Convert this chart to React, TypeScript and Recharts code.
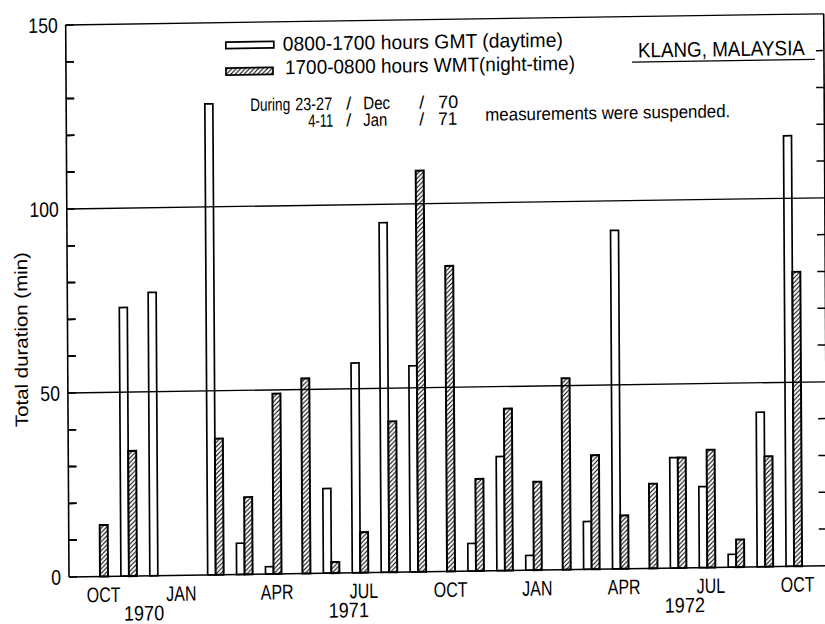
import React from 'react';
import { BarChart, Bar, XAxis, YAxis, ReferenceLine } from 'recharts';

// ---------- data ----------
const months = [
  'Oct 1970', 'Nov 1970', 'Dec 1970', 'Jan 1971', 'Feb 1971', 'Mar 1971', 'Apr 1971',
  'May 1971', 'Jun 1971', 'Jul 1971', 'Aug 1971', 'Sep 1971', 'Oct 1971', 'Nov 1971',
  'Dec 1971', 'Jan 1972', 'Feb 1972', 'Mar 1972', 'Apr 1972', 'May 1972', 'Jun 1972',
  'Jul 1972', 'Aug 1972', 'Sep 1972', 'Oct 1972',
];
const monthTickLabels = [
  'OCT', '', '', 'JAN', '', '', 'APR', '', '', 'JUL', '', '', 'OCT', '', '', 'JAN', '', '',
  'APR', '', '', 'JUL', '', '', 'OCT',
];
// 0800-1700 hours GMT (daytime)
const daytime = [null, 73, 77, null, 128, 8.5, 2, null, 23, 57, 95, 56, null, 7.5, 31, 4, null, 13, 92, null, 30, 22, 3.5, 42, 117];
// 1700-0800 hours WMT (night-time)
const nighttime = [14, 34, null, null, 37, 21, 49, 53, 3, 11, 41, 109, 83, 25, 44, 24, 52, 31, 14.5, 23, 30, 32, 7.5, 30, 80];

const yearLabels = [
  { index: 1, label: '1970', shift: 0.5 },
  { index: 8, label: '1971', shift: 0.58 },
  { index: 20, label: '1972', shift: 0.2 },
];
const yTicks = [0, 10, 20, 30, 40, 50, 60, 70, 80, 90, 100, 110, 120, 130, 140, 150];
const yLabelled = [0, 50, 100, 150];
const minorTicks = [10, 20, 30, 40, 60, 70, 80, 90, 110, 120, 130, 140];
const gridValues = [50, 100, 150];
const legendDay = '0800-1700 hours GMT  (daytime)';
const legendNight = '1700-0800 hours WMT(night-time)';
const stationTitle = 'KLANG, MALAYSIA';
const yTitle = 'Total duration (min)';
const noteLine1 = ['During', '23-27', '/', 'Dec', '/', '70'];
const noteLine2 = ['4-11', '/', 'Jan', '/', '71'];
const noteTail = 'measurements were suspended.';

const data = months.map((m, i) => ({ m, day: daytime[i], night: nighttime[i] }));

// ---------- layout / styling ----------
const FONT = "'Liberation Sans', Arial, Helvetica, sans-serif";
const BAND = 28.92;
const TICK_LEN = 8;
const AXIS_X = 69;
const PLOT_TOP = 25;
const PLOT_BOTTOM = 577;
const Y_MAX = 150;
const monthNudge: Record<number, number> = { 3: -6 };
const axisY = (v: number) => PLOT_BOTTOM - (v / Y_MAX) * (PLOT_BOTTOM - PLOT_TOP);

function CText({ x, y, size, anchor = 'start', sx = 0.8, children }: any) {
  return (
    <text
      transform={`translate(${x},${y}) scale(${sx},1)`}
      x={0}
      y={0}
      textAnchor={anchor}
      fontSize={size}
      fontFamily={FONT}
      fill="#000"
    >
      {children}
    </text>
  );
}

function LText({ x, y, size, len, anchor = 'start', children }: any) {
  return (
    <text
      x={x}
      y={y}
      textAnchor={anchor}
      fontSize={size}
      fontFamily={FONT}
      fill="#000"
      textLength={len}
      lengthAdjust={len ? 'spacingAndGlyphs' : undefined}
    >
      {children}
    </text>
  );
}

function XTick(props: any) {
  const { x, y, index } = props;
  const label = monthTickLabels[index];
  const yr = yearLabels.find((d) => d.index === index);
  const nudge = monthNudge[index] ?? 3;
  return (
    <g>
      {label ? (
        <CText x={x + nudge} y={y + 25.5} size={21} anchor="middle" sx={0.76}>
          {label}
        </CText>
      ) : null}
      {yr ? (
        <CText x={x + yr.shift * BAND} y={y + 44.5} size={21} anchor="middle" sx={0.86}>
          {yr.label}
        </CText>
      ) : null}
    </g>
  );
}

// with tickSize = -TICK_LEN the tick anchor sits TICK_LEN px inside the axis
function LeftTick(props: any) {
  const { x, y, payload } = props;
  const v = payload.value;
  return yLabelled.includes(v) ? (
    <CText x={x - TICK_LEN - 8} y={y + 7.5} size={21} anchor="end" sx={0.84}>
      {String(v)}
    </CText>
  ) : (
    <g />
  );
}

// short inward tick marks at both ends of a horizontal reference line
function MinorTickShape(props: any) {
  const { x1, x2, y1 } = props;
  const left = Math.min(x1, x2);
  const right = Math.max(x1, x2);
  return (
    <g>
      <line x1={left} x2={left + TICK_LEN} y1={y1} y2={y1} stroke="#000" strokeWidth={1.5} />
      <line x1={right - TICK_LEN} x2={right} y1={y1} y2={y1} stroke="#000" strokeWidth={1.5} />
    </g>
  );
}

export default function App() {
  return (
    <div
      style={{
        position: 'absolute',
        left: 0,
        top: 0,
        width: 825,
        height: 624,
        overflow: 'hidden',
        background: '#fff',
      }}
    >
      <div
        style={{
          position: 'relative',
          width: 860,
          height: 624,
          transformOrigin: `${AXIS_X}px ${PLOT_BOTTOM}px`,
          transform: 'matrix(1, -0.0148, 0.006, 1, 0, 0)',
        }}
      >
        <BarChart
          width={860}
          height={624}
          data={data}
          margin={{ top: PLOT_TOP, right: 0, bottom: 0, left: 0 }}
          barGap={0}
        >
          <XAxis
            dataKey="m"
            interval={0}
            tickLine={false}
            tickSize={0}
            tickMargin={0}
            height={624 - PLOT_BOTTOM}
            padding={{ left: 17, right: 18 }}
            axisLine={{ stroke: '#000', strokeWidth: 1.6 }}
            tick={<XTick />}
          />
          <YAxis
            yAxisId="left"
            orientation="left"
            width={AXIS_X}
            domain={[0, Y_MAX]}
            ticks={yTicks}
            interval={0}
            tickLine={{ stroke: '#000', strokeWidth: 1.5 }}
            tickSize={-TICK_LEN}
            tickMargin={0}
            axisLine={{ stroke: '#000', strokeWidth: 1.6 }}
            tick={<LeftTick />}
          />
          <YAxis
            yAxisId="right"
            orientation="right"
            width={33}
            domain={[0, Y_MAX]}
            ticks={yLabelled}
            tickLine={false}
            tick={false}
            axisLine={{ stroke: '#000', strokeWidth: 1.6 }}
          />
          {minorTicks.map((v) => (
            <ReferenceLine
              key={`m${v}`}
              yAxisId="left"
              y={v}
              stroke="#000"
              shape={<MinorTickShape />}
            />
          ))}
          {gridValues.map((v) => (
            <ReferenceLine key={v} yAxisId="left" y={v} stroke="#000" strokeWidth={1.3} />
          ))}
          <Bar
            yAxisId="left"
            dataKey="day"
            fill="#fff"
            stroke="#000"
            strokeWidth={1.7}
            barSize={8}
            isAnimationActive={false}
          />
          <Bar
            yAxisId="left"
            dataKey="night"
            fill="url(#hatch)"
            stroke="#000"
            strokeWidth={2}
            barSize={8}
            isAnimationActive={false}
          />
        </BarChart>
        <svg
          width={860}
          height={624}
          style={{ position: 'absolute', left: 0, top: 0, pointerEvents: 'none' }}
        >
          <defs>
            <pattern id="hatch" patternUnits="userSpaceOnUse" width="4.5" height="4.5">
              <rect width="4.5" height="4.5" fill="#fff" />
              <path
                d="M-1.125,1.125 L1.125,-1.125 M0,4.5 L4.5,0 M3.375,5.625 L5.625,3.375"
                stroke="#000"
                strokeWidth="1.1"
              />
            </pattern>
          </defs>
          {/* left-axis minor ticks (axis decoration on top layer) */}
          {minorTicks.map((v) => (
            <line
              key={`lt${v}`}
              x1={AXIS_X}
              x2={AXIS_X + TICK_LEN}
              y1={axisY(v)}
              y2={axisY(v)}
              stroke="#000"
              strokeWidth={1.5}
            />
          ))}
          {/* legend */}
          <rect x={229} y={44.5} width={48} height={6.5} fill="#fff" stroke="#000" strokeWidth={1.7} />
          <rect x={229} y={70.5} width={47} height={7} fill="url(#hatch)" stroke="#000" strokeWidth={1.7} />
          <LText x={286} y={54} size={20} len={280}>{legendDay}</LText>
          <LText x={288} y={77.5} size={20} len={290}>{legendNight}</LText>
          {/* station */}
          <LText x={641} y={66} size={21} len={167}>{stationTitle}</LText>
          <line x1={635} x2={818} y1={70.5} y2={70.5} stroke="#000" strokeWidth={1.3} />
          {/* note */}
          <LText x={253} y={113.7} size={18} len={40}>{noteLine1[0]}</LText>
          <LText x={298} y={113.7} size={18} len={37}>{noteLine1[1]}</LText>
          <LText x={349} y={113.7} size={18}>{noteLine1[2]}</LText>
          <LText x={366} y={113.7} size={18} len={27}>{noteLine1[3]}</LText>
          <LText x={422} y={113.7} size={18}>{noteLine1[4]}</LText>
          <LText x={441} y={113.7} size={18} len={20}>{noteLine1[5]}</LText>
          <LText x={311} y={130.5} size={18} len={25}>{noteLine2[0]}</LText>
          <LText x={349} y={130.5} size={18}>{noteLine2[1]}</LText>
          <LText x={366} y={130.5} size={18} len={24}>{noteLine2[2]}</LText>
          <LText x={422} y={130.5} size={18}>{noteLine2[3]}</LText>
          <LText x={441} y={130.5} size={18} len={19}>{noteLine2[4]}</LText>
          <LText x={488} y={127} size={18} len={245}>{noteTail}</LText>
          {/* y axis title */}
          <g transform="translate(29,339) rotate(-90)">
            <LText x={0} y={0} size={18} len={175} anchor="middle">{yTitle}</LText>
          </g>
        </svg>
      </div>
    </div>
  );
}
